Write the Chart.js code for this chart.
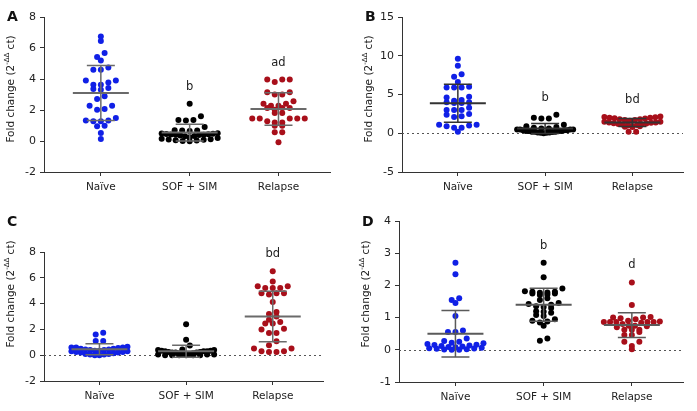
<!DOCTYPE html>
<html>
<head>
<meta charset="utf-8">
<script src="https://cdn.jsdelivr.net/npm/chart.js@4"></script>
<style>
  body { margin: 0; background: #fff; width: 697px; height: 411px; position: relative; overflow: hidden; }
  canvas { position: absolute; }
</style>
</head>
<body>
<canvas id="chartA" width="348" height="205" style="left:0;top:0"></canvas>
<canvas id="chartB" width="349" height="205" style="left:348px;top:0"></canvas>
<canvas id="chartC" width="348" height="206" style="left:0;top:205px"></canvas>
<canvas id="chartD" width="349" height="206" style="left:348px;top:205px"></canvas>
<script>
// Groups on the x axis
const categories = ['Naïve', 'SOF + SIM', 'Relapse'];

// Panel A
const naiveA = [6.75, 6.45, 5.68, 5.42, 5.2, 4.75, 4.6, 4.6, 3.91, 3.91, 3.78, 3.63, 3.63, 3.42, 3.35, 3.3, 2.88, 2.71, 2.28, 2.28, 2.06, 2.02, 1.48, 1.33, 1.33, 1.27, 1.27, 0.99, 0.95, 0.52, 0.13];
const sofA = [2.4, 1.6, 1.35, 1.35, 1.32, 0.9, 0.7, 0.68, 0.68, 0.65, 0.5, 0.48, 0.46, 0.45, 0.43, 0.42, 0.4, 0.4, 0.38, 0.35, 0.32, 0.3, 0.25, 0.2, 0.15, 0.12, 0.1, 0.08, 0.05, 0.03, 0.0, -0.02];
const relapseA = [3.96, 3.96, 3.96, 3.8, 3.14, 3.14, 3.0, 3.0, 2.56, 2.41, 2.41, 2.28, 2.28, 2.13, 2.13, 2.13, 2.02, 1.81, 1.81, 1.45, 1.45, 1.45, 1.45, 1.45, 1.27, 1.2, 1.2, 0.99, 0.99, 0.56, 0.56, -0.08];
const marksA = ['', 'b', 'ad'];
const yTicksA = [-2, 0, 2, 4, 6, 8];

// Panel B
const naiveB = [9.6, 8.7, 7.6, 7.3, 6.6, 6.0, 5.9, 5.9, 5.9, 4.7, 4.6, 4.3, 4.2, 4.0, 4.0, 3.9, 3.9, 3.3, 3.0, 3.0, 3.0, 2.5, 2.4, 2.2, 2.1, 1.1, 1.1, 1.0, 0.9, 0.7, 0.7, 0.2];
const sofB = [2.4, 2.0, 1.9, 1.9, 1.1, 0.9, 0.8, 0.7, 0.6, 0.6, 0.5, 0.5, 0.5, 0.5, 0.4, 0.4, 0.4, 0.3, 0.3, 0.3, 0.3, 0.2, 0.2, 0.2, 0.15, 0.1, 0.1, 0.05, 0.05, 0.0];
const relapseB = [2.15, 2.1, 2.05, 2.0, 2.0, 1.95, 1.9, 1.8, 1.8, 1.7, 1.7, 1.6, 1.5, 1.5, 1.4, 1.4, 1.35, 1.3, 1.25, 1.2, 1.15, 1.1, 1.05, 1.0, 0.95, 0.9, 0.85, 0.8, 0.2, 0.2];
const marksB = ['', 'b', 'bd'];
const yTicksB = [-5, 0, 5, 10, 15];

// Panel C
const naiveC = [1.75, 1.6, 1.1, 1.1, 0.65, 0.6, 0.6, 0.6, 0.55, 0.5, 0.5, 0.45, 0.45, 0.4, 0.4, 0.35, 0.35, 0.3, 0.3, 0.25, 0.25, 0.2, 0.2, 0.15, 0.1, 0.1, 0.05, 0.05, 0.0, 0.0];
const sofC = [2.4, 1.2, 0.75, 0.45, 0.4, 0.4, 0.35, 0.35, 0.3, 0.3, 0.3, 0.25, 0.25, 0.2, 0.2, 0.2, 0.15, 0.15, 0.1, 0.1, 0.1, 0.05, 0.05, 0.05, 0.0, 0.0, 0.0, 0.0, 0.0, 0.0];
const relapseC = [6.5, 5.72, 5.35, 5.35, 5.2, 5.2, 5.2, 4.8, 4.8, 4.8, 4.7, 4.12, 3.35, 3.2, 3.0, 2.75, 2.58, 2.45, 2.45, 2.05, 2.0, 1.73, 1.73, 1.08, 0.77, 0.52, 0.52, 0.3, 0.3, 0.25, 0.25];
const marksC = ['', '', 'bd'];
const yTicksC = [-2, 0, 2, 4, 6, 8];

// Panel D
const naiveD = [2.7, 2.35, 1.6, 1.55, 1.45, 1.05, 0.6, 0.55, 0.55, 0.35, 0.27, 0.25, 0.22, 0.2, 0.18, 0.16, 0.15, 0.13, 0.12, 0.1, 0.09, 0.08, 0.06, 0.05, 0.04, 0.03, 0.02, 0.01, 0.0, 0.0];
const sofD = [2.7, 2.25, 1.9, 1.82, 1.8, 1.8, 1.78, 1.77, 1.75, 1.75, 1.72, 1.7, 1.6, 1.55, 1.45, 1.42, 1.4, 1.35, 1.33, 1.3, 1.2, 1.18, 1.15, 1.08, 1.05, 0.95, 0.9, 0.88, 0.85, 0.75, 0.35, 0.28];
const relapseD = [2.09, 1.39, 1.02, 1.0, 1.0, 0.98, 0.95, 0.9, 0.88, 0.86, 0.86, 0.86, 0.86, 0.86, 0.84, 0.8, 0.75, 0.75, 0.73, 0.7, 0.62, 0.62, 0.62, 0.55, 0.46, 0.46, 0.25, 0.25, 0.12, 0.02];
const marksD = ['', 'b', 'd'];
const yTicksD = [-1, 0, 1, 2, 3, 4];

const dotColors = ['#1020e6', '#000000', '#a80f1a'];
const FONT = 'DejaVu Sans';

// area = [left, right, top, bottom] of the plot inside each canvas
const panels = [
    { id: 'chartA', letter: 'A', groups: [naiveA, sofA, relapseA], marks: marksA, yTicks: yTicksA, zero: false, area: [44, 330, 17, 172], bar: '#6a6a6a' },
    { id: 'chartB', letter: 'B', groups: [naiveB, sofB, relapseB], marks: marksB, yTicks: yTicksB, zero: true, area: [54, 335, 17, 172], bar: '#333333' },
    { id: 'chartC', letter: 'C', groups: [naiveC, sofC, relapseC], marks: marksC, yTicks: yTicksC, zero: true, area: [44, 323, 47, 176], bar: '#6a6a6a' },
    { id: 'chartD', letter: 'D', groups: [naiveD, sofD, relapseD], marks: marksD, yTicks: yTicksD, zero: true, area: [51, 335, 16, 177], bar: '#5a5a5a' }
];

function meanSd(vals) {
    const m = vals.reduce((s, v) => s + v, 0) / vals.length;
    const v = vals.reduce((s, x) => s + (x - m) * (x - m), 0) / (vals.length - 1);
    return [m, Math.sqrt(v)];
}

// Extra drawing: dotted zero line, mean +/- SD bars, letters and y title
function decorPlugin(p) {
    return {
        id: 'decor',
        beforeDatasetsDraw(chart) {
            if (!p.zero) return;
            const ctx = chart.ctx, a = chart.chartArea;
            const y0 = Math.round(chart.scales.y.getPixelForValue(0)) + 0.5;
            ctx.save();
            ctx.strokeStyle = '#555';
            ctx.lineWidth = 1;
            ctx.setLineDash([2, 3]);
            ctx.beginPath();
            ctx.moveTo(a.left, y0);
            ctx.lineTo(a.right, y0);
            ctx.stroke();
            ctx.restore();
        },
        afterDatasetsDraw(chart) {
            const ctx = chart.ctx, xs = chart.scales.x, ys = chart.scales.y;
            ctx.save();
            ctx.strokeStyle = p.bar;
            p.groups.forEach((vals, i) => {
                const [m, sd] = meanSd(vals);
                const cx = xs.getPixelForValue(i + 1);
                const ym = ys.getPixelForValue(m);
                const yt = ys.getPixelForValue(m + sd);
                const yb = ys.getPixelForValue(m - sd);
                ctx.lineWidth = 2;
                ctx.beginPath();
                ctx.moveTo(cx - 28, ym); ctx.lineTo(cx + 28, ym);
                ctx.stroke();
                ctx.lineWidth = 1.5;
                ctx.beginPath();
                ctx.moveTo(cx, yt); ctx.lineTo(cx, yb);
                ctx.moveTo(cx - 14, yt); ctx.lineTo(cx + 14, yt);
                ctx.moveTo(cx - 14, yb); ctx.lineTo(cx + 14, yb);
                ctx.stroke();
            });
            ctx.restore();
        },
        afterDraw(chart) {
            const ctx = chart.ctx, xs = chart.scales.x, ys = chart.scales.y, a = chart.chartArea;
            ctx.save();
            // significance letters above each group
            ctx.fillStyle = '#222';
            ctx.font = '11.5px ' + FONT;
            ctx.textAlign = 'center';
            ctx.textBaseline = 'middle';
            p.marks.forEach((t, i) => {
                if (!t) return;
                const top = Math.max(...p.groups[i]);
                ctx.fillText(t, xs.getPixelForValue(i + 1), ys.getPixelForValue(top) - 17);
            });
            // panel letter
            ctx.font = 'bold 14px ' + FONT;
            ctx.textAlign = 'left';
            ctx.fillStyle = '#111';
            ctx.fillText(p.letter, a.left - 37, 17);
            // y axis title with superscript
            ctx.translate(a.left - 33, 89);
            ctx.rotate(-Math.PI / 2);
            ctx.fillStyle = '#222';
            const t1 = 'Fold change (2', t2 = '-ΔΔ', t3 = ' ct)';
            ctx.font = '10.5px ' + FONT;
            const w1 = ctx.measureText(t1).width, w3 = ctx.measureText(t3).width;
            ctx.font = '7px ' + FONT;
            const w2 = ctx.measureText(t2).width;
            let x = -(w1 + w2 + w3) / 2;
            ctx.font = '10.5px ' + FONT;
            ctx.fillText(t1, x, 0);
            ctx.font = '7px ' + FONT;
            ctx.fillText(t2, x + w1, -4);
            ctx.font = '10.5px ' + FONT;
            ctx.fillText(t3, x + w1 + w2, 0);
            ctx.restore();
        }
    };
}

// Prism-like scatter: points close in value share a row, spread sideways
function spreadRows(chart) {
    const xs = chart.scales.x, ys = chart.scales.y;
    const binH = 4.5, gap = 7.5, maxW = 56;
    chart.data.datasets.forEach((ds, i) => {
        const cx = xs.getPixelForValue(i + 1);
        const vals = ds.data.map(pt => pt.y).sort((a, b) => b - a);
        const rows = [];
        vals.forEach(v => {
            const py = ys.getPixelForValue(v);
            const row = rows[rows.length - 1];
            if (row && py - row.top < binH) row.vals.push(v);
            else rows.push({ top: py, vals: [v] });
        });
        const out = [];
        rows.forEach(row => {
            const n = row.vals.length;
            const s = n > 1 ? Math.min(gap, maxW / (n - 1)) : 0;
            const asc = row.vals.slice().sort((a, b) => a - b);
            // slots ordered from the middle outwards
            const slots = [];
            for (let j = 0; j < n; j++) slots.push((j - (n - 1) / 2) * s);
            slots.sort((a, b) => Math.abs(a) - Math.abs(b) || a - b);
            asc.forEach((v, j) => out.push({ x: xs.getValueForPixel(cx + slots[j]), y: v }));
        });
        ds.data = out;
    });
    chart.update('none');
}

function makeChart(p) {
    const canvas = document.getElementById(p.id);
    const W = canvas.width, H = canvas.height;
    const [aL, aR, aT, aB] = p.area;
    const yMin = p.yTicks[0], yMax = p.yTicks[p.yTicks.length - 1];
    const chart = new Chart(canvas, {
        type: 'scatter',
        data: {
            datasets: p.groups.map((vals, i) => ({
                label: categories[i],
                data: vals.map(v => ({ x: i + 1, y: v })),
                backgroundColor: dotColors[i],
                borderWidth: 0,
                pointRadius: 3,
                pointHoverRadius: 3
            }))
        },
        options: {
            responsive: false,
            animation: false,
            events: [],
            layout: { padding: { left: 0, right: W - aR, top: aT, bottom: 0 } },
            plugins: { legend: { display: false }, tooltip: { enabled: false } },
            scales: {
                x: {
                    type: 'linear',
                    min: 0.36,
                    max: 3.58,
                    afterFit: s => { s.height = H - aB; },
                    afterBuildTicks: s => { s.ticks = [1, 2, 3].map(v => ({ value: v })); },
                    ticks: {
                        callback: v => categories[v - 1],
                        font: { family: FONT, size: 10.5 },
                        color: '#222',
                        padding: 5,
                        autoSkip: false,
                        maxRotation: 0
                    },
                    grid: { drawOnChartArea: false, tickLength: 4, color: '#333' },
                    border: { color: '#333', width: 1 }
                },
                y: {
                    min: yMin,
                    max: yMax,
                    afterFit: s => { s.width = aL; },
                    afterBuildTicks: s => { s.ticks = p.yTicks.map(v => ({ value: v })); },
                    ticks: {
                        font: { family: FONT, size: 11 },
                        color: '#222',
                        padding: 4
                    },
                    grid: { drawOnChartArea: false, tickLength: 4, color: '#333' },
                    border: { color: '#333', width: 1 }
                }
            }
        },
        plugins: [decorPlugin(p)]
    });
    spreadRows(chart);
    return chart;
}

panels.forEach(makeChart);
</script>
</body>
</html>
